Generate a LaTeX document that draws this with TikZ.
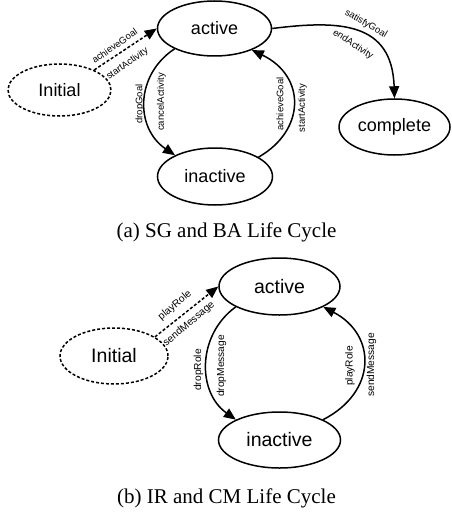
\documentclass[tikz,border=0pt]{standalone}
\usepackage{fontspec}
\setmainfont{Liberation Serif}
\newfontfamily\arialf{Liberation Sans}
\usetikzlibrary{arrows.meta,shapes.geometric}
\begin{document}
\begin{tikzpicture}[x=1pt,y=-1pt,
  state/.style={ellipse, draw, line width=1.5pt, inner sep=0pt, font=\arialf\fontsize{18}{20}\selectfont},
  bstate/.style={state, font=\arialf\fontsize{19.5}{22}\selectfont},
  initstyle/.style={dash pattern=on 3pt off 2pt},
  edge/.style={line width=1.5pt, -{Triangle[length=12pt,width=10pt]}},
  dashedge/.style={edge, dash pattern=on 3pt off 2pt},
  lbl/.style={font=\arialf\fontsize{9.5}{10}\selectfont, inner sep=0pt},
  blbl/.style={font=\arialf\fontsize{10.2}{11}\selectfont, inner sep=0pt},
  captxt/.style={font=\fontsize{21}{24}\selectfont, anchor=base, inner sep=0pt}]
\useasboundingbox (0,0) rectangle (451,516);

% ---- (a) ----
\node[state, minimum width=114pt, minimum height=55pt] (A1) at (214.5,28.5) {active};
\node[state, initstyle, minimum width=103pt, minimum height=52pt] (I1) at (59.5,90) {Initial};
\node[state, minimum width=115pt, minimum height=57pt] (N1) at (215,176.5) {inactive};
\node[state, minimum width=111pt, minimum height=56pt] (C1) at (394.5,127) {complete};

\draw[dashedge] (I1.30) -- (A1.west);
\draw[edge] (A1.207) .. controls (135,75) and (135,128) .. (N1.152);
\draw[edge] (N1.24) .. controls (306,130) and (306,76) .. (A1.330);
\draw[edge] (A1.east) .. controls (340,20) and (392,22) .. (C1.north);

\node[lbl, rotate=35] (la1) at (114.5,46) {achieveGoal};
\node[lbl, rotate=35] (la2) at (127.5,64) {startActivity};
\node[lbl, rotate=90] (la3) at (140,104) {dropGoal};
\node[lbl, rotate=90] (la4) at (161.5,102) {cancelActivity};
\node[lbl, rotate=90] (la5) at (280,104) {achieveGoal};
\node[lbl, rotate=90] (la6) at (302.5,108) {startActivity};
\node[lbl, rotate=-30] (la7) at (366,24) {satisfyGoal};
\node[lbl, rotate=-33] (la8) at (353,44.5) {endActivity};

\node[captxt] (capa) at (226.5,237) {(a) SG and BA Life Cycle};

% ---- (b) ----
\node[bstate, minimum width=121pt, minimum height=57pt] (A2) at (279.5,286.5) {active};
\node[bstate, initstyle, minimum width=108pt, minimum height=56pt] (I2) at (114,356) {Initial};
\node[bstate, minimum width=122pt, minimum height=56pt] (N2) at (279.5,440) {inactive};

\draw[dashedge] (I2.25) -- (A2.west);
\draw[edge] (A2.205) .. controls (197,335) and (197,392) .. (N2.155);
\draw[edge] (N2.25) .. controls (377,392) and (377,335) .. (A2.335);

\node[blbl, rotate=40] (lb1) at (175,305.5) {playRole};
\node[blbl, rotate=40] (lb2) at (189,324) {sendMessage};
\node[blbl, rotate=90] (lb3) at (198.5,370) {dropRole};
\node[blbl, rotate=90] (lb4) at (221.5,366) {dropMessage};
\node[blbl, rotate=90] (lb5) at (350,366) {playRole};
\node[blbl, rotate=90] (lb6) at (371.5,365) {sendMessage};

\node[captxt] (capb) at (226.5,503) {(b) IR and CM Life Cycle};
\end{tikzpicture}
\end{document}
